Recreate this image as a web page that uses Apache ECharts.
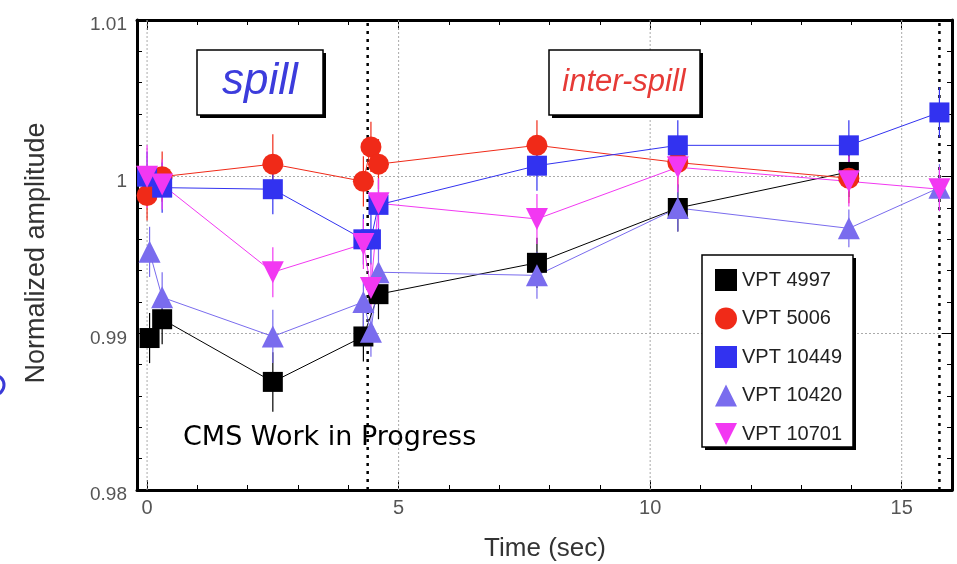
<!DOCTYPE html>
<html><head><meta charset="utf-8">
<script src="https://cdn.jsdelivr.net/npm/echarts@6/dist/echarts.min.js"></script>
<style>html,body{margin:0;padding:0;background:#fff}#c{width:957px;height:564px}</style>
</head><body><div id="c"></div>
<script>
// ---- data ----
const seriesNames = ['VPT 4997', 'VPT 5006', 'VPT 10449', 'VPT 10420', 'VPT 10701'];
const seriesColors = ['#000000', '#f02a18', '#3232f0', '#7a6cee', '#f238f2'];

const t4997 = [0.05, 0.3, 2.5, 4.3, 4.6, 7.75, 10.55, 13.95];
const v4997 = [0.9897, 0.9909, 0.9869, 0.9898, 0.9925, 0.9945, 0.9980, 1.0003];
const e4997 = [0.0016, 0.0016, 0.0019, 0.0016, 0.0016, 0.0016, 0.0015, 0.0016];

const t5006 = [0.0, 0.3, 2.5, 4.3, 4.45, 4.6, 7.75, 10.55, 13.95];
const v5006 = [0.9988, 1.0000, 1.0008, 0.9997, 1.0019, 1.0008, 1.0020, 1.0009, 0.9999];
const e5006 = [0.0016, 0.0016, 0.0019, 0.0016, 0.0016, 0.0016, 0.0016, 0.0016, 0.0016];

const t10449 = [0.0, 0.3, 2.5, 4.3, 4.45, 4.6, 7.75, 10.55, 13.95, 15.75];
const v10449 = [1.0000, 0.9993, 0.9992, 0.9960, 0.9960, 0.9982, 1.0007, 1.0020, 1.0020, 1.0041];
const e10449 = [0.0016, 0.0016, 0.0016, 0.0016, 0.0016, 0.0016, 0.0016, 0.0016, 0.0016, 0.0016];

const t10420 = [0.05, 0.3, 2.5, 4.3, 4.45, 4.6, 7.75, 10.55, 13.95, 15.75];
const v10420 = [0.9952, 0.9923, 0.9898, 0.9920, 0.9901, 0.9939, 0.9937, 0.9980, 0.9967, 0.9993];
const e10420 = [0.0016, 0.0016, 0.0017, 0.0016, 0.0016, 0.0016, 0.0015, 0.0015, 0.0012, 0.0015];

const t10701 = [0.0, 0.3, 2.5, 4.3, 4.45, 4.6, 7.75, 10.55, 13.95, 15.75];
const v10701 = [1.0000, 0.9995, 0.9939, 0.9957, 0.9929, 0.9983, 0.9973, 1.0006, 0.9997, 0.9992];
const e10701 = [0.0020, 0.0016, 0.0016, 0.0016, 0.0016, 0.0016, 0.0016, 0.0016, 0.0016, 0.0014];

const xTickLabels = [0, 5, 10, 15];
const xMinorTicks = [0, 1, 2, 3, 4, 5, 6, 7, 8, 9, 10, 11, 12, 13, 14, 15, 16];
const xGridValues = [0, 5, 10, 15];
const spillBoundaries = [4.385, 15.75];

// ---- build ----
const allT = [t4997, t5006, t10449, t10420, t10701];
const allV = [v4997, v5006, v10449, v10420, v10701];
const allE = [e4997, e5006, e10449, e10420, e10701];
const symbols = ['rect', 'circle', 'rect', 'triangle', 'path://M0,0L10,0L5,10Z'];
const symbolSizes = [20, 21, 20, 22, 22];

const Y_MIN = 0.98, Y_MAX = 1.01;

function errRender(params, api) {
  const x = api.value(0), y = api.value(1), e = api.value(2);
  const p1 = api.coord([x, y - e]), p2 = api.coord([x, y + e]);
  return { type: 'line', shape: { x1: p1[0], y1: p1[1], x2: p2[0], y2: p2[1] },
           style: { stroke: api.visual('color'), lineWidth: 1.2 } };
}
function vLineRender(style) {
  return function (params, api) {
    const x = api.value(0);
    const p1 = api.coord([x, Y_MIN]), p2 = api.coord([x, Y_MAX]);
    return { type: 'line', shape: { x1: p1[0], y1: p1[1], x2: p2[0], y2: p2[1] }, style: style };
  };
}

const series = [];
series.push({ type: 'custom', name: 'grid', xAxisIndex: 0, yAxisIndex: 0, silent: true, z: 1,
  data: xGridValues.map(v => [v]), encode: { x: 0 },
  renderItem: vLineRender({ stroke: '#aaaaaa', lineWidth: 1, lineDash: [2, 2] }) });
series.push({ type: 'custom', name: 'boundary', xAxisIndex: 0, yAxisIndex: 0, silent: true, z: 1,
  data: spillBoundaries.map(v => [v]), encode: { x: 0 },
  renderItem: vLineRender({ stroke: '#000', lineWidth: 2.5, lineDash: [3, 5] }) });

seriesNames.forEach((n, i) => {
  series.push({ type: 'custom', name: n, xAxisIndex: 0, yAxisIndex: 0, z: 2,
    itemStyle: { color: seriesColors[i] },
    data: allT[i].map((t, k) => [t, allV[i][k], allE[i][k]]),
    encode: { x: 0, y: 1 }, renderItem: errRender });
});
seriesNames.forEach((n, i) => {
  series.push({ type: 'line', name: n, xAxisIndex: 0, yAxisIndex: 0, z: 3,
    data: allT[i].map((t, k) => [t, allV[i][k]]),
    symbol: symbols[i], symbolSize: symbolSizes[i], showAllSymbol: true,
    itemStyle: { color: seriesColors[i], opacity: 1 },
    lineStyle: { color: seriesColors[i], width: 1 },
    animation: false });
});

function xAxisDef(pos, major) {
  return {
    type: 'value', min: -0.2, max: 16, position: pos,
    axisLine: { show: major, onZero: false, lineStyle: { color: '#000', width: 3 } },
    axisTick: { show: true, inside: true, length: major ? 10 : 5,
      customValues: major ? xTickLabels : xMinorTicks, lineStyle: { color: '#000', width: 1 } },
    axisLabel: (major && pos === 'bottom') ? { show: true, customValues: xTickLabels, color: '#555',
      fontSize: 20, fontFamily: 'Liberation Sans', margin: 8 } : { show: false },
    splitLine: { show: false }
  };
}
function yAxisDef(pos) {
  return {
    type: 'value', min: Y_MIN, max: Y_MAX, interval: 0.01, position: pos,
    axisLine: { show: true, onZero: false, lineStyle: { color: '#000', width: 3 } },
    axisTick: { show: true, inside: true, length: 10, lineStyle: { color: '#000', width: 1 } },
    minorTick: { show: true, splitNumber: 5, length: 5, lineStyle: { color: '#000', width: 1 } },
    axisLabel: pos === 'left' ? { show: true, color: '#555', fontSize: 19, fontFamily: 'Liberation Sans',
      margin: 10, verticalAlign: 'top', lineHeight: 10, formatter: v => String(+v.toFixed(2)) } : { show: false },
    splitLine: { show: pos === 'left', lineStyle: { color: '#aaaaaa', width: 1, type: [2, 2] } }
  };
}

const option = {
  animation: false,
  backgroundColor: '#fff',
  grid: { left: 137, right: 5, top: 20, bottom: 74, containLabel: false },
  xAxis: [xAxisDef('bottom', true), xAxisDef('bottom', false), xAxisDef('top', true), xAxisDef('top', false)],
  yAxis: [yAxisDef('left'), yAxisDef('right')],
  legend: {
    orient: 'vertical', left: 710, top: 264, itemGap: 16.5, itemWidth: 22, itemHeight: 22, z: 10,
    textStyle: { fontSize: 20, color: '#222', fontFamily: 'Liberation Sans' },
    data: seriesNames.map((n, i) => ({ name: n, icon: symbols[i] }))
  },
  graphic: [
    // legend box
    { type: 'rect', z: 8, shape: { x: 705, y: 258, width: 151, height: 192 }, style: { fill: '#000' } },
    { type: 'rect', z: 8, shape: { x: 702, y: 255, width: 151, height: 192 }, style: { fill: '#fff', stroke: '#000', lineWidth: 1.5 } },
    // spill box
    { type: 'rect', z: 8, shape: { x: 200, y: 53, width: 126, height: 65 }, style: { fill: '#000' } },
    { type: 'rect', z: 8, shape: { x: 197, y: 50, width: 126, height: 65 }, style: { fill: '#fff', stroke: '#000', lineWidth: 1.5 } },
    { type: 'text', z: 9, style: { text: 'spill', x: 260, y: 82, align: 'center', verticalAlign: 'middle',
      font: 'italic 44px "Liberation Sans"', fill: '#3c3cdc' } },
    // inter-spill box
    { type: 'rect', z: 8, shape: { x: 552, y: 53, width: 151, height: 65 }, style: { fill: '#000' } },
    { type: 'rect', z: 8, shape: { x: 549, y: 50, width: 151, height: 65 }, style: { fill: '#fff', stroke: '#000', lineWidth: 1.5 } },
    { type: 'text', z: 9, style: { text: 'inter-spill', x: 624, y: 82, align: 'center', verticalAlign: 'middle',
      font: 'italic 31px "Liberation Sans"', fill: '#e63a36' } },
    // CMS text
    { type: 'text', z: 9, style: { text: 'CMS Work in Progress', x: 183, y: 438, align: 'left', verticalAlign: 'middle',
      font: '27px "DejaVu Sans"', fill: '#000' } },
    // axis titles
    { type: 'text', z: 9, x: 37, y: 253, rotation: Math.PI / 2, style: { text: 'Normalized amplitude', x: 0, y: 0,
      align: 'center', verticalAlign: 'middle', font: '27px "Liberation Sans"', fill: '#333' } },
    { type: 'text', z: 9, style: { text: 'Time (sec)', x: 545, y: 549, align: 'center', verticalAlign: 'middle',
      font: '26px "Liberation Sans"', fill: '#333' } },
    // stray arc at left edge
    { type: 'circle', z: 9, shape: { cx: -6, cy: 385, r: 10 }, style: { fill: 'none', stroke: '#3a3ad8', lineWidth: 3 } }
  ],
  series: series
};

const chart = echarts.init(document.getElementById('c'), null, { renderer: 'canvas' });
chart.setOption(option);
</script></body></html>
